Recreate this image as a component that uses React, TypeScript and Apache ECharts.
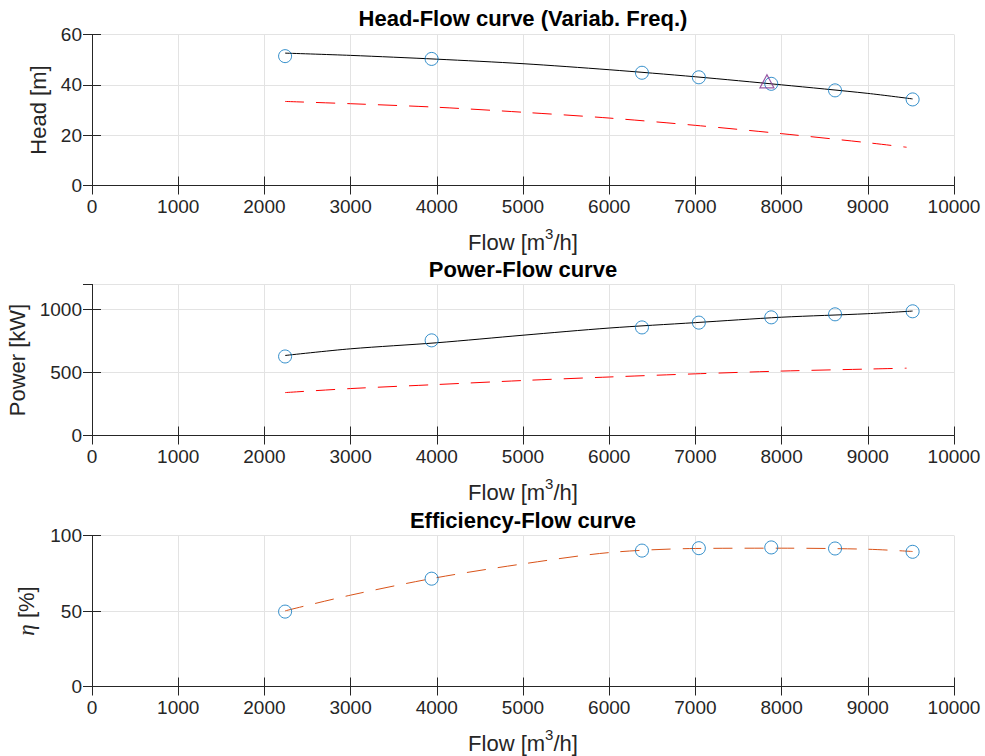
import React, { useEffect, useRef } from "react";
import * as echarts from "echarts";

// ---- data ----
const flowPts = [2240, 3940, 6380, 7040, 7880, 8620, 9520];
const headPts = [51.4, 50.3, 44.8, 43.0, 40.4, 37.8, 34.2];
const powerPts = [628, 756, 859, 897, 939, 963, 987];
const effPts = [49.6, 71.4, 90.0, 91.6, 92.1, 91.4, 89.2];

const fitFlow = [2240, 3000, 4000, 5000, 6000, 7000, 8000, 9000, 9520];
const headFit = [52.6, 51.7, 50.2, 48.4, 46.0, 43.2, 40.0, 36.6, 34.4];
const powerFit = [636, 689, 737, 797, 854, 897, 940, 968, 989];
const effFit = [50.1, 60.5, 72.1, 81.2, 88.7, 91.4, 91.6, 90.9, 89.4];

const redFlow = [2240, 3000, 4000, 5000, 6000, 7000, 8000, 9000, 9450];
const headRed = [33.4, 32.5, 31.1, 29.1, 26.8, 23.9, 20.6, 17.0, 15.2];
const powerRed = [341, 373, 405, 437, 465, 490, 512, 528, 535];

const opFlow = [7830];
const opHead = [41.4];

const titles = ["Head-Flow curve (Variab. Freq.)", "Power-Flow curve", "Efficiency-Flow curve"];
const yNames = ["Head [m]", "Power [kW]", "{g|η} [%]"];
const yMax = [60, 1200, 100];
const yInterval = [20, 500, 50];

const FONT = '"Liberation Sans", Helvetica, Arial, sans-serif';
const AX = "#262626";
const GRIDC = "#e3e3e3";
const BLUE = "#0072BD";

const gridTops = [34.5, 284.5, 535.5];
const gridH = 151;
const titleY = [18.5, 269, 520];
const yGaps = [39, 57, 54];

const zip = (a: number[], b: number[]) => a.map((v, i) => [v, b[i]]);
const plain = (v: number) => String(v);

export default function App() {
  const ref = useRef<HTMLDivElement>(null);
  useEffect(() => {
    document.body.style.margin = "0";
    const chart = echarts.init(ref.current!, null, { renderer: "svg" });

    const grid = gridTops.map((t) => ({
      left: 92, right: 31, top: t, height: gridH, show: false,
      containLabel: false, outerBoundsMode: "none",
    }));

    const xAxis: any[] = [];
    const yAxis: any[] = [];
    for (let g = 0; g < 3; g++) {
      xAxis.push({
        type: "value", gridIndex: g, position: "bottom", min: 0, max: 10000, interval: 1000,
        axisLine: { show: true, lineStyle: { color: AX, width: 1 } },
        axisTick: { show: true, inside: true, length: 9, lineStyle: { color: AX } },
        axisLabel: { color: AX, fontSize: 19, fontFamily: FONT, margin: 11, formatter: plain },
        splitLine: { show: true, lineStyle: { color: GRIDC, width: 1 } },
        name: "{a|Flow [m}{s|3}{a|/h]}",
        nameLocation: "middle", nameGap: 40,
        nameTextStyle: {
          color: AX, fontFamily: FONT, fontSize: 22,
          rich: {
            a: { fontSize: 22, fontFamily: FONT, color: AX, lineHeight: 28, verticalAlign: "bottom" },
            s: { fontSize: 15, fontFamily: FONT, color: AX, verticalAlign: "top", lineHeight: 28 },
          },
        },
      });
      xAxis.push({
        type: "value", gridIndex: g, position: "top", min: 0, max: 10000, interval: 1000,
        axisLine: { show: true, lineStyle: { color: AX, width: 1 } },
        axisTick: { show: true, inside: true, length: 9, lineStyle: { color: AX } },
        axisLabel: { show: false }, splitLine: { show: false },
      });
      yAxis.push({
        type: "value", gridIndex: g, position: "left", min: 0, max: yMax[g], interval: yInterval[g],
        axisLine: { show: true, lineStyle: { color: AX, width: 1 } },
        axisTick: { show: true, inside: true, length: 9, lineStyle: { color: AX } },
        axisLabel: { color: AX, fontSize: 19, fontFamily: FONT, margin: 10, showMaxLabel: g !== 1, formatter: plain },
        splitLine: { show: true, lineStyle: { color: GRIDC, width: 1 } },
        name: yNames[g], nameLocation: "middle", nameGap: yGaps[g], nameRotate: 90,
        nameTextStyle: {
          color: AX, fontFamily: FONT, fontSize: 22,
          rich: { g: { fontStyle: "italic", fontFamily: '"Liberation Serif", "DejaVu Serif", serif', fontSize: 23, color: AX } },
        },
      });
      yAxis.push({
        type: "value", gridIndex: g, position: "right", min: 0, max: yMax[g], interval: yInterval[g],
        axisLine: { show: true, lineStyle: { color: AX, width: 1 } },
        axisTick: { show: true, inside: true, length: 9, lineStyle: { color: AX } },
        axisLabel: { show: false }, splitLine: { show: false },
      });
    }

    const circle = (g: number, ys: number[]) => ({
      type: "scatter", xAxisIndex: g * 2, yAxisIndex: g * 2, z: 5,
      data: zip(flowPts, ys), symbol: "circle", symbolSize: 13,
      itemStyle: { color: "rgba(0,0,0,0)", borderColor: BLUE, borderWidth: 1 },
      emphasis: { disabled: true },
    });
    const line = (g: number, xs: number[], ys: number[], color: string, dashed: boolean) => ({
      type: "line", xAxisIndex: g * 2, yAxisIndex: g * 2, z: 3,
      data: zip(xs, ys), showSymbol: false, symbol: "none", smooth: 0.3,
      lineStyle: { color, width: 1, type: dashed ? [19, 12] : "solid" },
      emphasis: { disabled: true },
    });

    const series: any[] = [
      line(0, fitFlow, headFit, "#000000", false),
      line(0, redFlow, headRed, "#ff0000", true),
      circle(0, headPts),
      {
        type: "scatter", xAxisIndex: 0, yAxisIndex: 0, z: 6,
        data: zip(opFlow, opHead), symbol: "triangle", symbolSize: [14, 13],
        itemStyle: { color: "rgba(0,0,0,0)", borderColor: "#7E2F8E", borderWidth: 1.2 },
        emphasis: { disabled: true },
      },
      line(1, fitFlow, powerFit, "#000000", false),
      line(1, redFlow, powerRed, "#ff0000", true),
      circle(1, powerPts),
      line(2, fitFlow, effFit, "#D95319", true),
      circle(2, effPts),
    ];

    const graphic = titles.map((t, i) => ({
      type: "text", x: 523, y: titleY[i],
      style: { text: t, fill: "#000", font: `bold 22px ${FONT}`, textAlign: "center", textVerticalAlign: "middle" },
    }));

    chart.setOption({
      animation: false,
      backgroundColor: "#ffffff",
      grid, xAxis, yAxis, series, graphic,
    });
    return () => chart.dispose();
  }, []);
  return <div ref={ref} style={{ width: 985, height: 756 }} />;
}
